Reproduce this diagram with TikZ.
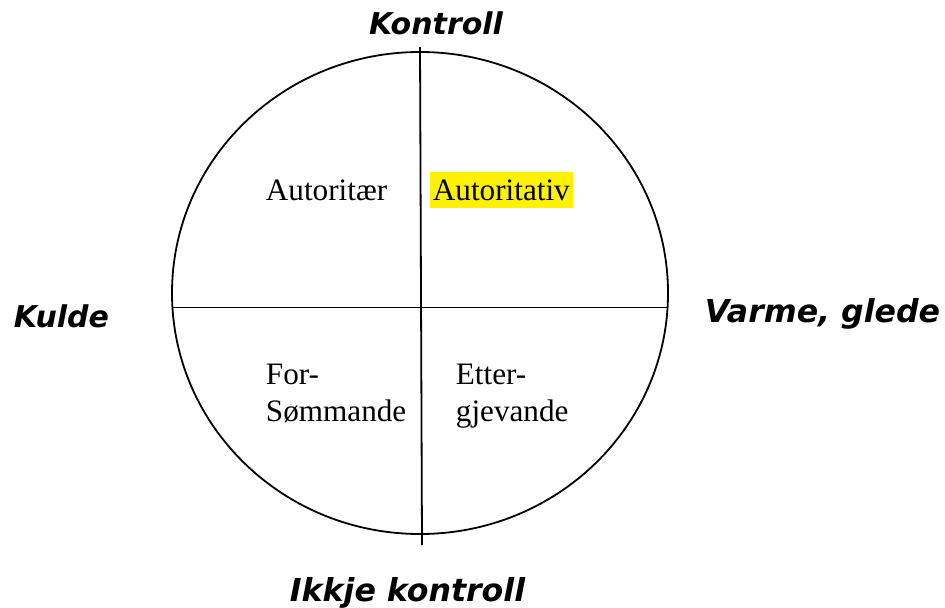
\documentclass[tikz,border=0pt]{standalone}
\usepackage{fontspec}
\setmainfont{Liberation Serif}
\setsansfont{DejaVu Sans}
\newcommand{\akse}{\sffamily\bfseries\itshape\fontsize{15}{18}\selectfont}
\newcommand{\aksestor}{\sffamily\bfseries\itshape\fontsize{15.8}{18}\selectfont}
\newcommand{\felt}{\fontsize{15.6}{18.4}\selectfont}

\begin{document}
\begin{tikzpicture}[x=0.5pt,y=-0.5pt,line width=0.9pt]
   \useasboundingbox (0,0) rectangle (945,608);
   \draw (420,293) ellipse [x radius=124pt, y radius=120.5pt];
   \coordinate (topp) at (420,47);
   \coordinate (botn) at (422,545);
   \coordinate (vest) at (172,307.5);
   \coordinate (aust) at (668,307.5);
   \draw (topp) -- (botn);
   \draw (vest) -- (aust);
   \node[anchor=base] (kontroll) at (436,35) {\akse Kontroll};
   \node[anchor=base] (ikkje) at (407.5,601.5) {\aksestor Ikkje kontroll};
   \node[anchor=base] (kulde) at (61.5,328) {\akse Kulde};
   \node[anchor=base] (varme) at (822.5,323) {\aksestor Varme, glede};
   \node[anchor=base west,inner sep=0] (autoritaer) at (265,200.7) {\felt Autoritær};
   \node[anchor=base west,fill=yellow,inner xsep=1.5pt,inner ysep=0,
         text height=14.3pt,text depth=3.6pt] (autoritativ) at (429,200.7) {\felt Autoritativ};
   \node[anchor=base west,inner sep=0,align=left,font=\felt] (forsom) at (265,421.7) {For-\\Sømmande};
   \node[anchor=base west,inner sep=0,align=left,font=\felt] (etter) at (455,421.7) {Etter-\\gjevande};
\end{tikzpicture}
\end{document}
